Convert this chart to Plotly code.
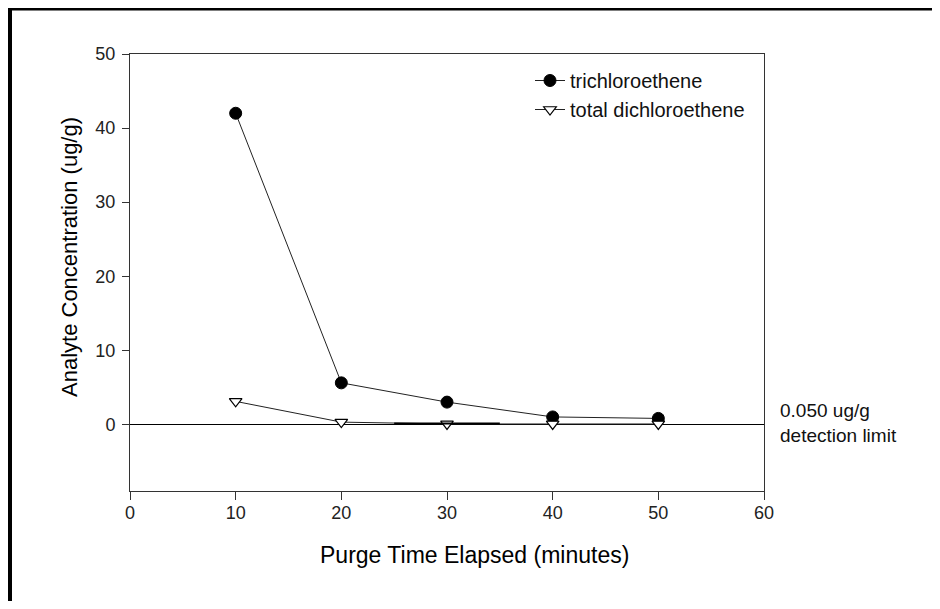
import plotly.graph_objects as go

time_min = [10, 20, 30, 40, 50]
tce = [42.0, 5.6, 3.0, 1.0, 0.8]
dce = [3.1, 0.3, 0.05, 0.05, 0.05]
detect_x = [25, 35]
detect_y = [0.1, 0.1]

x_ticks = [0, 10, 20, 30, 40, 50, 60]
y_ticks = [0, 10, 20, 30, 40, 50]

# page has an 8px body margin; figure sized so it fits the 940x609 window
OFF = 8
W, H = 940 - OFF, 609 - 2 * OFF
L, T = 130 - OFF, 54 - OFF
R = W - (764 - OFF)
B = H - (491 - OFF)
pw, ph = W - L - R, H - T - B

def px(x_page):
    return (x_page - OFF - L) / pw

def py(y_page):
    return (H - B - (y_page - OFF)) / ph

FONT = "Liberation Sans, Arial, sans-serif"

fig = go.Figure()
fig.add_trace(go.Scatter(
    x=time_min, y=tce, mode="lines+markers", name="trichloroethene",
    line=dict(color="#222222", width=1),
    marker=dict(symbol="circle", size=12, color="black", line=dict(color="black", width=1)),
))
fig.add_trace(go.Scatter(
    x=time_min, y=dce, mode="lines+markers", name="total dichloroethene",
    line=dict(color="#222222", width=1),
    marker=dict(symbol="triangle-down", size=11, color="white", line=dict(color="black", width=1.2)),
))
fig.add_trace(go.Scatter(
    x=detect_x, y=detect_y, mode="lines", showlegend=False, hoverinfo="skip",
    line=dict(color="black", width=2),
))

fig.update_layout(
    width=W, height=H,
    margin=dict(l=L, r=R, t=T, b=B),
    paper_bgcolor="white", plot_bgcolor="white",
    font=dict(family=FONT, color="black"),
    showlegend=True,
    legend=dict(x=px(530), y=py(61), xanchor="left", yanchor="top",
                bgcolor="rgba(0,0,0,0)", font=dict(size=20, color="#111111"),
                itemwidth=30, tracegroupgap=0),
    xaxis=dict(range=[0, 60], tickvals=x_ticks, showgrid=False, zeroline=False,
               showline=True, linecolor="#333333", linewidth=1, mirror=True,
               ticks="outside", ticklen=8, tickcolor="#333333", ticklabelstandoff=-3,
               tickfont=dict(size=18, color="#222222")),
    yaxis=dict(range=[-9, 50], tickvals=y_ticks, showgrid=False, zeroline=True,
               zerolinecolor="black", zerolinewidth=1,
               showline=True, linecolor="#333333", linewidth=1, mirror=True,
               ticks="outside", ticklen=7, tickcolor="#333333", ticklabelstandoff=3,
               tickfont=dict(size=18, color="#222222")),
    shapes=[
        dict(type="line", xref="paper", yref="paper", x0=px(10), x1=px(945), y0=py(8.5), y1=py(8.5),
             line=dict(color="black", width=4)),
        dict(type="line", xref="paper", yref="paper", x0=px(10), x1=px(10), y0=py(6.5), y1=py(615),
             line=dict(color="black", width=4)),
    ],
    annotations=[
        dict(text="0.050 ug/g<br>detection limit", xref="paper", yref="paper",
             x=px(778), y=py(423), xanchor="left", yanchor="middle", align="left",
             showarrow=False, font=dict(size=19, color="#111111")),
        dict(text="Purge Time Elapsed (minutes)", xref="paper", yref="paper",
             x=px(475), y=py(555), xanchor="center", yanchor="middle",
             showarrow=False, font=dict(size=23, color="black")),
        dict(text="Analyte Concentration (ug/g)", xref="paper", yref="paper",
             x=px(70), y=py(257), xanchor="center", yanchor="middle", textangle=-90,
             showarrow=False, font=dict(size=22, color="black")),
    ],
)

fig.write_html("out.html")
